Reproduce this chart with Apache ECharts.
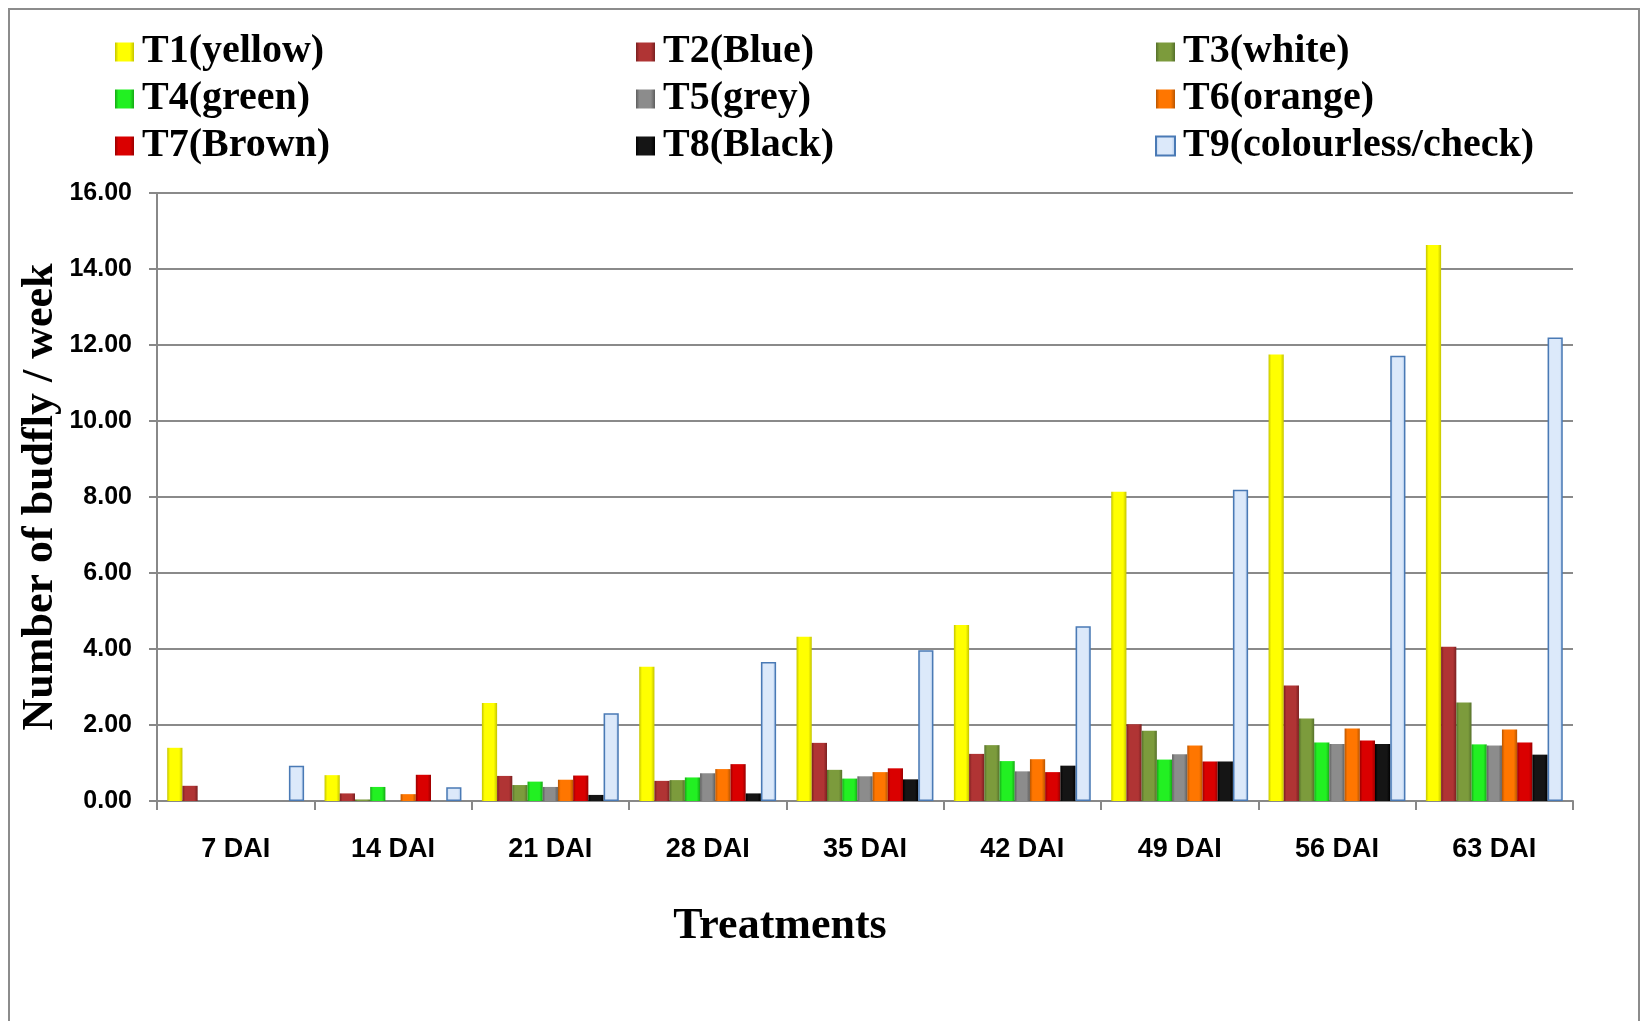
<!DOCTYPE html>
<html>
<head>
<meta charset="utf-8">
<script src="https://cdn.jsdelivr.net/npm/echarts@6/dist/echarts.min.js"></script>
<style>
html,body{margin:0;padding:0;background:#fff;}
#chart{width:1642px;height:1021px;}
</style>
</head>
<body>
<div id="chart"></div>
<script>
var categories = ['7 DAI','14 DAI','21 DAI','28 DAI','35 DAI','42 DAI','49 DAI','56 DAI','63 DAI'];
var seriesNames = ['T1(yellow)','T2(Blue)','T3(white)','T4(green)','T5(grey)','T6(orange)','T7(Brown)','T8(Black)','T9(colourless/check)'];
var t1 = [1.40, 0.68, 2.58, 3.53, 4.32, 4.63, 8.14, 11.75, 14.63];
var t2 = [0.40, 0.20, 0.66, 0.53, 1.53, 1.24, 2.02, 3.04, 4.06];
var t3 = [0.00, 0.04, 0.42, 0.55, 0.82, 1.47, 1.85, 2.17, 2.59];
var t4 = [0.00, 0.37, 0.51, 0.62, 0.59, 1.05, 1.09, 1.54, 1.49];
var t5 = [0.00, 0.00, 0.37, 0.73, 0.65, 0.78, 1.23, 1.50, 1.46];
var t6 = [0.00, 0.18, 0.56, 0.84, 0.76, 1.10, 1.46, 1.91, 1.88];
var t7 = [0.00, 0.69, 0.67, 0.97, 0.86, 0.76, 1.04, 1.59, 1.54];
var t8 = [0.00, 0.00, 0.16, 0.20, 0.57, 0.93, 1.04, 1.50, 1.22];
var t9 = [0.93, 0.36, 2.31, 3.66, 3.97, 4.60, 8.19, 11.72, 12.20];
var yTicks = {min: 0, max: 16, interval: 2};

var allData = [t1,t2,t3,t4,t5,t6,t7,t8,t9];
var baseColors = ['#FFFF00','#B03434','#7C9B3C','#22F022','#8C8C8C','#FF7600','#DA0000','#151515','#DCE9FA'];
var edgeColors = ['#C4C400','#7A2020','#55702A','#16A816','#5E5E5E','#B85500','#990000','#000000','#A8C4EA'];

function grad(i){
  return new echarts.graphic.LinearGradient(0,0,1,0,[
    {offset:0,color:edgeColors[i]},
    {offset:0.18,color:baseColors[i]},
    {offset:0.78,color:baseColors[i]},
    {offset:1,color:edgeColors[i]}
  ]);
}

var series = allData.map(function(d,i){
  var s = {
    name: seriesNames[i],
    type: 'bar',
    data: d,
    barGap: '0%',
    barCategoryGap: '13%',
    itemStyle: {color: grad(i)}
  };
  if (i === 8) { s.itemStyle.borderColor = '#4A7AB5'; s.itemStyle.borderWidth = 1.5; }
  return s;
});

var serif = "'Liberation Serif','Times New Roman',serif";
var sans = "'Liberation Sans',Arial,sans-serif";

function legendCol(left, names){
  return {
    orient: 'vertical',
    left: left,
    top: 32,
    padding: 0,
    icon: 'rect',
    itemWidth: 19,
    itemHeight: 19,
    itemGap: 7,
    data: names,
    textStyle: {fontFamily: serif, fontWeight: 'bold', fontSize: 40, color: '#000', padding: [0,0,0,3]}
  };
}

var chart = echarts.init(document.getElementById('chart'));
chart.setOption({
  animation: false,
  backgroundColor: '#fff',
  legend: [
    legendCol(115, [seriesNames[0], seriesNames[3], seriesNames[6]]),
    legendCol(636, [seriesNames[1], seriesNames[4], seriesNames[7]]),
    legendCol(1155, [seriesNames[2], seriesNames[5], seriesNames[8]])
  ],
  grid: {left: 157, right: 69, top: 193, bottom: 220, containLabel: false},
  xAxis: {
    type: 'category',
    data: categories,
    axisLine: {lineStyle: {color: '#888', width: 2}},
    axisTick: {show: true, length: 9, lineStyle: {color: '#888', width: 2}},
    axisLabel: {fontFamily: sans, fontWeight: 'bold', fontSize: 27, color: '#000', margin: 35}
  },
  yAxis: {
    type: 'value',
    min: yTicks.min, max: yTicks.max, interval: yTicks.interval,
    axisLine: {show: true, lineStyle: {color: '#888', width: 2}},
    axisTick: {show: true, length: 8, lineStyle: {color: '#888', width: 2}},
    splitLine: {lineStyle: {color: '#8a8a8a', width: 2}},
    axisLabel: {fontFamily: sans, fontWeight: 'bold', fontSize: 25, color: '#000', margin: 25,
      formatter: function(v){ return v.toFixed(2); }}
  },
  graphic: [
    {type: 'rect', shape: {x: 9, y: 9, width: 1630, height: 1100}, style: {fill: 'none', stroke: '#8c8c8c', lineWidth: 2}, silent: true},
    {type: 'text', x: 780, y: 927, style: {text: 'Treatments', fontFamily: serif, fontWeight: 'bold', fontSize: 44, fill: '#000', textAlign: 'center', textVerticalAlign: 'middle'}},
    {type: 'text', x: 41, y: 497, rotation: Math.PI / 2, style: {text: 'Number of budfly / week', fontFamily: serif, fontWeight: 'bold', fontSize: 44, fill: '#000', textAlign: 'center', textVerticalAlign: 'middle'}}
  ],
  series: series
});
</script>
</body>
</html>
